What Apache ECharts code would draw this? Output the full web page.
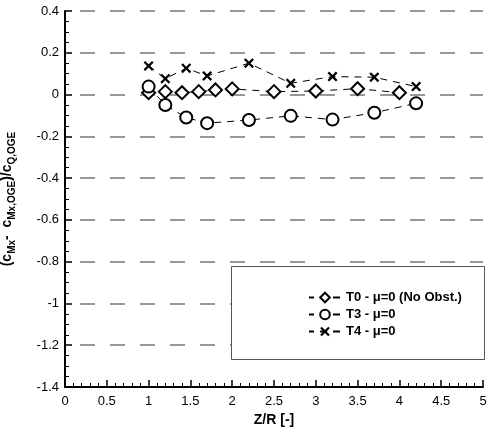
<!DOCTYPE html>
<html><head><meta charset="utf-8">
<script src="https://cdn.jsdelivr.net/npm/echarts@6/dist/echarts.min.js"></script>
<style>html,body{margin:0;padding:0;background:#fff}#c{width:487px;height:434px}</style>
</head><body><div id="c"></div>
<script>
const t0X = [1.0, 1.2, 1.4, 1.6, 1.8, 2.0, 2.5, 3.0, 3.5, 4.0];
const t0Y = [0.009, 0.014, 0.009, 0.014, 0.022, 0.027, 0.014, 0.017, 0.028, 0.009];
const t3X = [1.0, 1.2, 1.45, 1.7, 2.2, 2.7, 3.2, 3.7, 4.2];
const t3Y = [0.038, -0.05, -0.11, -0.137, -0.122, -0.102, -0.12, -0.087, -0.042];
const t4X = [1.0, 1.2, 1.45, 1.7, 2.2, 2.7, 3.2, 3.7, 4.2];
const t4Y = [0.137, 0.076, 0.126, 0.089, 0.15, 0.054, 0.086, 0.083, 0.038];
const seriesNames = ['T0 - μ=0 (No Obst.)', 'T3 - μ=0', 'T4 - μ=0'];

const zip = (xs, ys) => xs.map((x, i) => [x, ys[i]]);
const FONT = 'Liberation Sans, Arial, Helvetica, sans-serif';
const X_SYM = 'path://M0,1.6L1.6,0L5,3.4L8.4,0L10,1.6L6.6,5L10,8.4L8.4,10L5,6.6L1.6,10L0,8.4L3.4,5Z';

const lineStyle = { color: '#000', width: 1, type: [7, 6] };
const mk = (name, data, symbol, size, filled) => ({
  name, type: 'line', data, symbol, symbolSize: size,
  lineStyle, showAllSymbol: true, z: 5,
  itemStyle: filled ? { color: '#000', borderWidth: 0 } : { color: '#000', borderColor: '#000', borderWidth: 1.2 }
});

const chart = echarts.init(document.getElementById('c'), null, { renderer: 'canvas' });
chart.setOption({
  animation: false,
  backgroundColor: '#fff',
  textStyle: { fontFamily: FONT },
  grid: { left: 65, right: 4, top: 11, bottom: 47, outerBoundsMode: 'none', containLabel: false },
  xAxis: {
    type: 'value', min: 0, max: 5, interval: 0.5,
    axisLine: { onZero: false, lineStyle: { color: '#000', width: 2 } },
    axisTick: { inside: true, length: 7, lineStyle: { color: '#000', width: 1.5 } },
    minorTick: { show: true, splitNumber: 5, length: 4, lineStyle: { color: '#000', width: 1 } },
    splitLine: { show: false },
    axisLabel: { color: '#000', fontSize: 13, fontFamily: FONT, margin: 8 },
    name: 'Z/R [-]', nameLocation: 'middle', nameGap: 24,
    nameTextStyle: { color: '#000', fontSize: 14, fontWeight: 'bold', fontFamily: FONT }
  },
  yAxis: {
    type: 'value', min: -1.4, max: 0.4, interval: 0.2,
    axisLine: { onZero: false, lineStyle: { color: '#000', width: 2 } },
    axisTick: { inside: true, length: 7, lineStyle: { color: '#000', width: 1.5 } },
    minorTick: { show: true, splitNumber: 4, length: 4, lineStyle: { color: '#000', width: 1 } },
    splitLine: { show: true, lineStyle: { color: '#777', width: 1.5, type: [15, 15], dashOffset: 15 } },
    axisLabel: { color: '#000', fontSize: 13, fontFamily: FONT, margin: 6,
      formatter: v => String(+v.toFixed(2)) },
    name: '{b|(c}{s|Mx}{b|-  c}{s|Mx,OGE}{b|)/c}{s|Q,OGE}',
    nameLocation: 'middle', nameGap: 48, nameRotate: 90,
    nameTextStyle: {
      color: '#000', fontFamily: FONT,
      rich: {
        b: { fontSize: 14, fontWeight: 'bold', color: '#000', fontFamily: FONT, lineHeight: 20 },
        s: { fontSize: 10, fontWeight: 'bold', color: '#000', fontFamily: FONT, lineHeight: 20, verticalAlign: 'bottom', padding: [8, 0, 0, 0] }
      }
    }
  },
  graphic: [{
    type: 'rect', left: 231, top: 266, z: 50,
    shape: { width: 253, height: 93 },
    style: { fill: '#fff', stroke: '#555', lineWidth: 1 }
  }],
  legend: {
    orient: 'vertical', left: 231, top: 266, z: 60,
    padding: [25, 0, 0, 77],
    itemWidth: 32, itemHeight: 12, itemGap: 4,
    textStyle: { color: '#000', fontSize: 13, fontWeight: 'bold', fontFamily: FONT },
    data: seriesNames
  },
  series: [
    mk(seriesNames[0], zip(t0X, t0Y), 'emptyDiamond', 13, false),
    mk(seriesNames[1], zip(t3X, t3Y), 'emptyCircle', 12, false),
    mk(seriesNames[2], zip(t4X, t4Y), X_SYM, 10, true)
  ]
});
</script></body></html>
